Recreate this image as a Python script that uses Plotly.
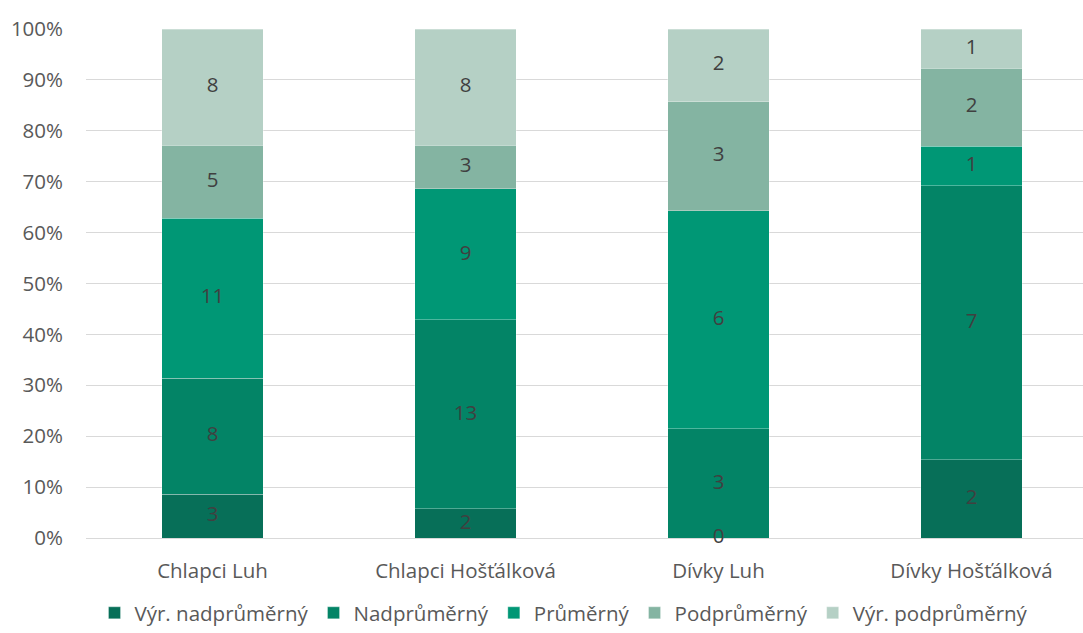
import plotly.graph_objects as go

categories = ["Chlapci Luh", "Chlapci Hošťálková", "Dívky Luh", "Dívky Hošťálková"]
series_names = ["Výr. nadprůměrný", "Nadprůměrný", "Průměrný", "Podprůměrný", "Výr. podprůměrný"]
vyr_nadprumerny = [3, 2, 0, 2]
nadprumerny = [8, 13, 3, 7]
prumerny = [11, 9, 6, 1]
podprumerny = [5, 3, 3, 2]
vyr_podprumerny = [8, 8, 2, 1]
y_ticks = [0, 10, 20, 30, 40, 50, 60, 70, 80, 90, 100]

series_values = [vyr_nadprumerny, nadprumerny, prumerny, podprumerny, vyr_podprumerny]
colors = ["#076F58", "#038466", "#009775", "#84B4A2", "#B5D0C5"]

FONT = "'Open Sans', sans-serif"
FS = 20.5

fig = go.Figure()
for name, vals, col in zip(series_names, series_values, colors):
    fig.add_trace(go.Bar(
        name=name, x=categories, y=vals,
        marker=dict(color=col, line=dict(color="rgba(255,255,255,0.3)", width=1)),
        width=0.4, hoverinfo="skip",
    ))

# data labels at the middle of each (percent-normalised) segment
totals = [sum(col) for col in zip(*series_values)]
lab_x, lab_y, lab_t = [], [], []
cum = [0.0] * len(categories)
for vals in series_values:
    for i, (c, v) in enumerate(zip(categories, vals)):
        pct = 100.0 * v / totals[i]
        lab_x.append(c)
        lab_y.append(cum[i] + pct / 2)
        lab_t.append(str(v))
        cum[i] += pct
fig.add_trace(go.Scatter(
    x=lab_x, y=lab_y, mode="text", text=lab_t,
    textfont=dict(family=FONT, size=FS, color="#404040"),
    showlegend=False, hoverinfo="skip", cliponaxis=False,
))

plot_w = 1083 - 86
cat_px = 253.0
fig.update_layout(
    width=1083, height=633,
    barmode="stack", barnorm="percent",
    paper_bgcolor="white", plot_bgcolor="white",
    margin=dict(l=86, r=0, t=29, b=95, autoexpand=False),
    font=dict(family=FONT, size=FS, color="#595959"),
    showlegend=True,
    legend=dict(orientation="h", xref="container", x=564 / 1083, xanchor="center",
                yref="container", y=0.0, yanchor="bottom",
                traceorder="normal",
                font=dict(family=FONT, size=FS, color="#595959"),
                itemwidth=30, bgcolor="rgba(0,0,0,0)"),
    xaxis=dict(range=[-0.5, -0.5 + plot_w / cat_px], showgrid=False, showline=False,
               zeroline=False, ticks="", ticklabelstandoff=18, automargin=False,
               tickfont=dict(family=FONT, size=FS, color="#595959")),
    yaxis=dict(range=[0, 100], tickmode="array", tickvals=y_ticks,
               ticktext=[f"{v}%" for v in y_ticks], automargin=False,
               showgrid=True, gridcolor="#D9D9D9", gridwidth=1,
               zeroline=True, zerolinecolor="#D9D9D9", zerolinewidth=1,
               showline=False, ticks="", ticklabelstandoff=22,
               tickfont=dict(family=FONT, size=FS, color="#595959")),
)

fig.write_html("out.html")
